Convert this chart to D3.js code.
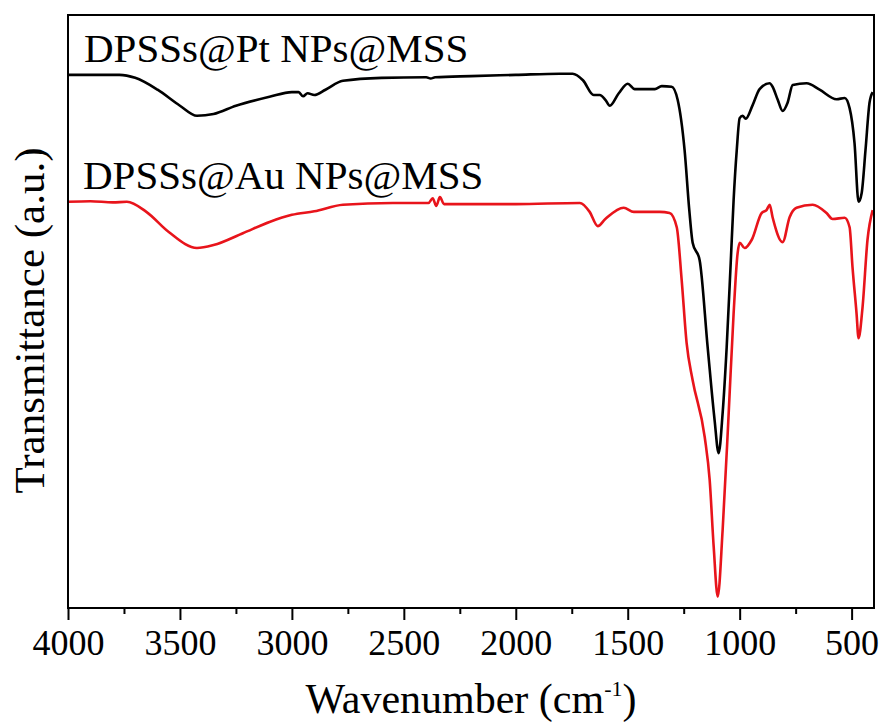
<!DOCTYPE html>
<style>
  body { margin: 0; background: white; }
  svg { display: block; }
  .frame { fill: none; stroke: black; stroke-width: 2; }
  .xaxis path { display: none; }
  .xaxis line { stroke: black; stroke-width: 2; }
  .label { font-family: "Liberation Serif", "Times New Roman", serif; fill: black; }
  .spectrum { fill: none; stroke-linejoin: round; }
</style>
<body>
</body>
<script src="https://cdn.jsdelivr.net/npm/d3@7/dist/d3.min.js"></script>
<script>
  // spectra: [wavenumber cm-1, transmittance a.u.]
  const ptSpectrum = [
    [4000, 89.9], [3770, 89.9], [3700, 89.4], [3600, 87.4], [3500, 84.7],
    [3424, 83.0], [3350, 83.3], [3250, 84.7], [3100, 86.2], [3000, 87.0],
    [2970, 87.0], [2950, 86.3], [2930, 86.8], [2900, 86.5], [2850, 87.4],
    [2772, 88.9], [2600, 89.4], [2400, 89.5], [2380, 89.3], [2360, 89.5],
    [2200, 89.7], [2000, 89.9], [1804, 90.1], [1746, 90.1], [1700, 89.0],
    [1652, 86.5], [1625, 86.5], [1600, 85.7], [1580, 84.7], [1540, 86.8],
    [1500, 88.4], [1469, 87.5], [1379, 87.5], [1348, 88.0], [1304, 87.9],
    [1277, 85.7], [1246, 77.2], [1225, 67.1], [1210, 61.6], [1179, 58.7],
    [1143, 44.0], [1112, 31.7], [1094, 26.1], [1076, 32.9], [1058, 44.0],
    [1040, 58.2], [1027, 68.8], [1013, 77.2], [1000, 82.6], [987, 83.0],
    [973, 82.5], [942, 84.8], [911, 87.5], [866, 88.5], [853, 87.9],
    [830, 85.7], [808, 83.8], [786, 85.2], [763, 88.2], [701, 88.5],
    [643, 87.4], [567, 85.8], [531, 86.0], [509, 84.3], [487, 78.4],
    [469, 68.5], [455, 70.0], [438, 77.2], [420, 85.2], [406, 87.0]
  ];

  const auSpectrum = [
    [4000, 68.5], [3900, 68.6], [3800, 68.4], [3737, 68.5], [3650, 66.8],
    [3550, 63.4], [3424, 60.7], [3350, 61.2], [3219, 63.2], [3100, 65.1],
    [3000, 66.3], [2900, 66.9], [2772, 68.0], [2549, 68.3], [2390, 68.3],
    [2371, 69.1], [2355, 67.8], [2339, 69.3], [2320, 68.1], [2000, 68.1],
    [1714, 68.3], [1670, 66.8], [1634, 64.4], [1600, 65.6], [1518, 67.5],
    [1473, 66.8], [1357, 66.8], [1313, 66.6], [1281, 64.2], [1259, 55.3],
    [1237, 44.7], [1210, 38.4], [1156, 28.8], [1134, 21.6], [1116, 10.3],
    [1098, 1.9], [1076, 13.2], [1049, 32.9], [1027, 49.7], [1009, 59.9],
    [1000, 61.6], [978, 60.7], [946, 62.1], [902, 66.6], [880, 67.1],
    [866, 68.0], [853, 65.9], [808, 61.7], [777, 65.9], [746, 67.5],
    [674, 68.0], [612, 66.6], [585, 65.6], [531, 65.8], [509, 64.2],
    [496, 57.5], [478, 49.7], [469, 45.5], [451, 50.8], [429, 62.1],
    [406, 67.1]
  ];

  const seriesNames = ['DPSSs@Pt NPs@MSS', 'DPSSs@Au NPs@MSS'];
  const seriesColors = ['#000000', '#e8141b'];
  const majorTicks = [4000, 3500, 3000, 2500, 2000, 1500, 1000, 500];
  const minorTicks = [3750, 3250, 2750, 2250, 1750, 1250, 750];

  const serif = '"Liberation Serif", "Times New Roman", serif';
  const w = 882, h = 724;
  const l = 68, r = 874, t = 15, b = 608;

  const svg = d3.select('body').append('svg')
    .attr('width', w)
    .attr('height', h);

  const x = d3.scaleLinear().domain([4000, 400]).range([l, r]);
  const y = d3.scaleLinear().domain([0, 100]).range([b, t]);

  const line = d3.line()
    .x(d => x(d[0]))
    .y(d => y(d[1]))
    .curve(d3.curveMonotoneX);

  // spectra
  [ptSpectrum, auSpectrum].forEach((s, i) => {
    svg.append('path')
      .attr('class', 'spectrum')
      .attr('d', line(s))
      .attr('stroke', seriesColors[i])
      .attr('stroke-width', 2.6);
  });

  // bottom axis, major and minor ticks pointing out
  svg.append('g')
    .attr('class', 'xaxis')
    .attr('transform', `translate(0, ${b})`)
    .call(d3.axisBottom(x).tickValues(majorTicks).tickSize(12).tickPadding(9)
            .tickFormat(d3.format('d')))
    .call(g => g.selectAll('text')
      .attr('dy', '0.71em')
      .style('font-family', serif)
      .style('font-size', '36px')
      .style('fill', 'black'));

  svg.append('g')
    .attr('class', 'xaxis')
    .attr('transform', `translate(0, ${b})`)
    .call(d3.axisBottom(x).tickValues(minorTicks).tickSize(6).tickFormat(''));

  svg.append('rect')
    .attr('class', 'frame')
    .attr('x', l).attr('y', t)
    .attr('width', r - l).attr('height', b - t);

  // curve labels
  svg.append('text').attr('class', 'label')
    .attr('x', 84).attr('y', 62)
    .style('font-size', '41px')
    .text(seriesNames[0]);

  svg.append('text').attr('class', 'label')
    .attr('x', 83).attr('y', 189)
    .style('font-size', '41px')
    .text(seriesNames[1]);

  // axis titles
  const xt = svg.append('text').attr('class', 'label')
    .attr('x', (l + r) / 2).attr('y', 713)
    .attr('text-anchor', 'middle')
    .style('font-size', '42px');
  xt.append('tspan').text('Wavenumber (cm');
  xt.append('tspan').attr('dy', -17).style('font-size', '22px').text('-1');
  xt.append('tspan').attr('dy', 17).text(')');

  svg.append('text').attr('class', 'label')
    .attr('transform', `translate(44, ${(t + b) / 2 + 9}) rotate(-90)`)
    .attr('text-anchor', 'middle')
    .style('font-size', '43px')
    .text('Transmittance (a.u.)');
</script>
